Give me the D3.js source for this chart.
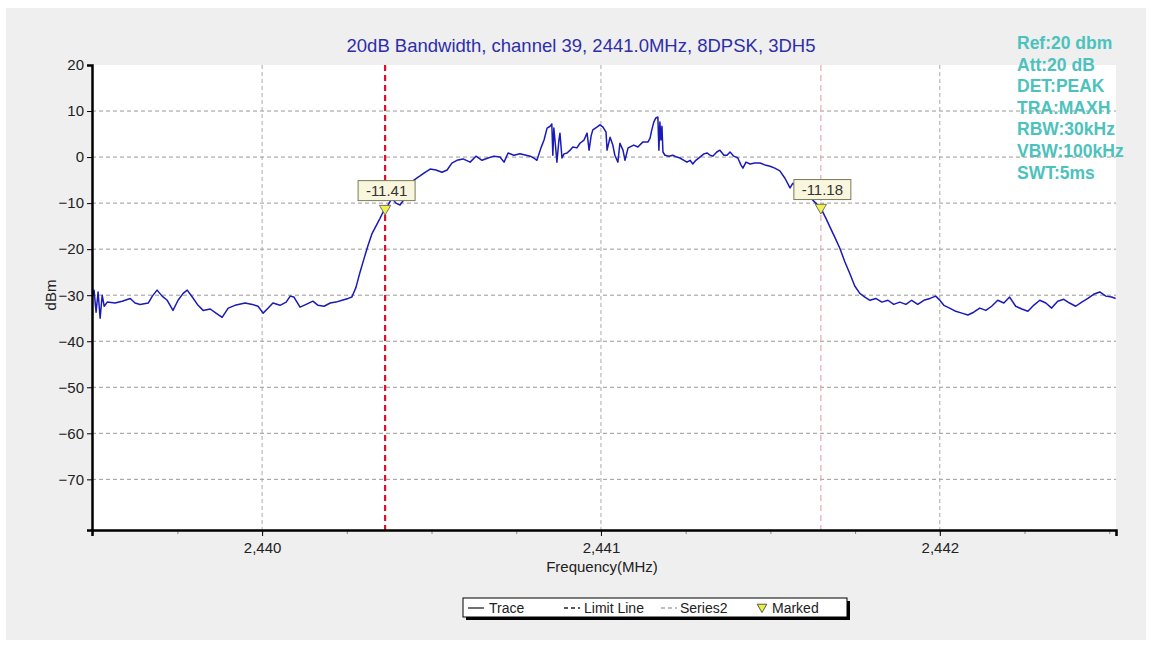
<!DOCTYPE html>
<html><head><meta charset="utf-8">
<script src="https://cdn.jsdelivr.net/npm/d3@7"></script>
<style>body{margin:0;background:#fff;} svg{display:block;font-family:Arial,"Liberation Sans",sans-serif;}</style>
</head><body>
<svg id="chart" width="1151" height="646"></svg>
<script>
// ---- data ----
const traceFreq = [2439.499,2439.504,2439.510,2439.516,2439.522,2439.528,2439.534,2439.543,2439.566,2439.587,2439.611,2439.625,2439.640,2439.664,2439.676,2439.690,2439.705,2439.720,2439.737,2439.752,2439.767,2439.779,2439.794,2439.811,2439.826,2439.847,2439.864,2439.882,2439.900,2439.920,2439.950,2439.971,2439.988,2440.003,2440.018,2440.032,2440.053,2440.071,2440.083,2440.094,2440.112,2440.130,2440.150,2440.165,2440.183,2440.201,2440.218,2440.236,2440.254,2440.265,2440.277,2440.289,2440.301,2440.313,2440.324,2440.336,2440.348,2440.360,2440.372,2440.383,2440.395,2440.407,2440.422,2440.437,2440.448,2440.466,2440.481,2440.496,2440.513,2440.531,2440.546,2440.560,2440.575,2440.593,2440.614,2440.631,2440.649,2440.667,2440.684,2440.702,2440.714,2440.726,2440.743,2440.761,2440.779,2440.791,2440.802,2440.811,2440.823,2440.832,2440.841,2440.850,2440.855,2440.858,2440.861,2440.867,2440.870,2440.876,2440.879,2440.885,2440.891,2440.900,2440.909,2440.917,2440.929,2440.938,2440.950,2440.959,2440.965,2440.971,2440.976,2440.988,2440.997,2441.006,2441.015,2441.018,2441.027,2441.035,2441.041,2441.050,2441.056,2441.065,2441.071,2441.080,2441.086,2441.097,2441.109,2441.124,2441.139,2441.145,2441.150,2441.156,2441.162,2441.168,2441.171,2441.174,2441.177,2441.180,2441.183,2441.189,2441.201,2441.212,2441.224,2441.233,2441.245,2441.254,2441.263,2441.271,2441.280,2441.292,2441.304,2441.313,2441.322,2441.330,2441.342,2441.351,2441.363,2441.372,2441.381,2441.392,2441.404,2441.413,2441.419,2441.428,2441.440,2441.454,2441.469,2441.484,2441.499,2441.513,2441.528,2441.543,2441.558,2441.566,2441.578,2441.593,2441.608,2441.622,2441.634,2441.649,2441.664,2441.676,2441.690,2441.705,2441.720,2441.735,2441.749,2441.764,2441.779,2441.794,2441.811,2441.829,2441.847,2441.864,2441.882,2441.900,2441.917,2441.935,2441.953,2441.971,2441.988,2442.000,2442.012,2442.029,2442.047,2442.065,2442.083,2442.100,2442.118,2442.136,2442.153,2442.171,2442.189,2442.206,2442.224,2442.242,2442.260,2442.277,2442.295,2442.313,2442.330,2442.348,2442.366,2442.383,2442.401,2442.419,2442.437,2442.454,2442.472,2442.490,2442.507,2442.519];
const traceDbm = [-30.4,-28.9,-33.7,-29.3,-35.0,-30.0,-32.4,-31.5,-31.7,-31.3,-30.7,-31.7,-32.0,-31.7,-30.2,-28.9,-30.2,-31.1,-33.3,-31.1,-29.6,-28.9,-30.4,-32.2,-33.3,-33.0,-33.9,-34.8,-32.8,-32.2,-31.7,-32.0,-32.4,-33.9,-32.8,-31.7,-32.2,-31.5,-30.2,-30.4,-32.6,-32.0,-31.3,-32.2,-32.4,-31.7,-31.5,-31.1,-30.7,-30.4,-28.3,-25.0,-22.0,-19.1,-16.7,-15.0,-13.3,-11.5,-10.4,-8.9,-10.0,-10.4,-8.9,-6.7,-5.0,-4.1,-3.3,-2.6,-2.8,-3.3,-2.8,-1.3,-0.7,-0.4,-1.1,0.2,-0.7,-0.2,0.2,0.0,-1.1,0.9,0.4,0.7,0.4,0.2,-0.2,-0.7,2.0,3.7,6.3,6.7,7.2,0.4,6.3,1.5,-1.1,3.7,5.2,-0.2,0.7,0.9,1.5,2.2,2.0,3.0,3.7,5.2,1.5,4.6,5.9,6.5,7.0,6.5,5.4,1.5,4.3,2.6,0.4,-1.1,3.0,1.5,-0.7,2.0,2.2,2.6,2.2,3.3,3.3,4.1,5.9,7.6,8.5,8.7,1.5,7.6,3.7,6.7,1.1,0.4,0.2,0.4,0.0,-0.2,-0.7,-1.1,-0.7,-1.5,-0.7,0.0,0.7,0.9,0.4,0.2,1.1,1.5,0.4,0.4,1.1,0.2,-0.2,-1.7,-2.4,-1.1,-1.5,-1.3,-1.3,-1.7,-2.0,-2.4,-3.0,-4.6,-6.7,-5.7,-6.3,-7.2,-8.0,-9.1,-10.0,-11.1,-13.3,-15.2,-17.4,-19.8,-22.8,-25.4,-28.0,-29.6,-30.4,-31.1,-30.7,-31.5,-31.1,-32.0,-31.5,-32.0,-31.1,-32.0,-31.1,-30.7,-30.2,-31.1,-32.2,-32.8,-33.5,-33.9,-34.3,-33.7,-32.8,-33.3,-32.4,-31.1,-31.7,-30.4,-32.4,-33.0,-33.5,-32.2,-31.1,-31.7,-32.8,-31.3,-30.9,-31.7,-32.4,-31.5,-30.7,-29.8,-29.3,-30.2,-30.4,-30.7];
const markerFreq = [2440.363, 2441.649];
const markerDbm = [-11.41, -11.18];
const markerLabels = ["-11.41", "-11.18"];
const yTicks = [20,10,0,-10,-20,-30,-40,-50,-60,-70];
const xMajorTicks = [2440, 2441, 2442];
const xDomain = [2439.498, 2442.52];
const yDomain = [-81, 20];
const infoLines = ["Ref:20 dbm","Att:20 dB","DET:PEAK","TRA:MAXH","RBW:30kHz","VBW:100kHz","SWT:5ms"];
const titleText = "20dB Bandwidth, channel 39, 2441.0MHz, 8DPSK, 3DH5";

// ---- layout ----
const svg = d3.select("#chart");
const L = 92, R = 1116, T = 65, B = 530;
const x = d3.scaleLinear().domain(xDomain).range([L, R]);
const y = d3.scaleLinear().domain(yDomain).range([B, T]);

// backgrounds
svg.append("rect").attr("x",6).attr("y",8).attr("width",1140).attr("height",632).attr("fill","#efefef");
svg.append("rect").attr("x",L).attr("y",T).attr("width",R-L).attr("height",B-T).attr("fill","#ffffff");

// grid
const grid = svg.append("g");
grid.selectAll("line.h").data(yTicks.filter(d=>d<20)).enter().append("line")
  .attr("x1",L).attr("x2",R).attr("y1",d=>y(d)).attr("y2",d=>y(d))
  .attr("stroke","#999").attr("stroke-width",1).attr("stroke-dasharray","4,3");
grid.selectAll("line.v").data(xMajorTicks).enter().append("line")
  .attr("x1",d=>x(d)).attr("x2",d=>x(d)).attr("y1",T).attr("y2",B)
  .attr("stroke","#aaa").attr("stroke-width",1).attr("stroke-dasharray","4,3");

// marker lines
svg.append("line").attr("x1",x(markerFreq[0])).attr("x2",x(markerFreq[0])).attr("y1",T).attr("y2",B)
  .attr("stroke","#e0102a").attr("stroke-width",2.2).attr("stroke-dasharray","6,4");
svg.append("line").attr("x1",x(markerFreq[1])).attr("x2",x(markerFreq[1])).attr("y1",T).attr("y2",B)
  .attr("stroke","#e8a8b0").attr("stroke-width",1.2).attr("stroke-dasharray","6,4");

// trace
const pts = traceFreq.map((f,i)=>[f, traceDbm[i]]);
svg.append("path").datum(pts)
  .attr("d", d3.line().x(d=>x(d[0])).y(d=>y(d[1])))
  .attr("fill","none").attr("stroke","#1a1ab8").attr("stroke-width",1.5).attr("stroke-linejoin","round");

// axes
const yAxis = d3.axisLeft(y).tickValues(yTicks).tickSize(5).tickFormat(d3.format("d"));
const gy = svg.append("g").attr("transform",`translate(${L},0)`).call(yAxis);
gy.select(".domain").attr("stroke","#000").attr("stroke-width",2.5);
gy.selectAll("text").attr("font-size",15).attr("fill","#222").attr("font-family","Arial, 'Liberation Sans', sans-serif");

const minorTicks = d3.range(2439.5, 2442.51, 0.25);
const xAxisMinor = d3.axisBottom(x).tickValues(minorTicks).tickSize(4).tickFormat("");
const gxm = svg.append("g").attr("transform",`translate(0,${B})`).call(xAxisMinor);
gxm.select(".domain").remove();
gxm.selectAll("line").attr("stroke","#888");
const xAxis = d3.axisBottom(x).tickValues(xMajorTicks).tickSize(6).tickPadding(6).tickFormat(d3.format(",d"));
const gx = svg.append("g").attr("transform",`translate(0,${B})`).call(xAxis);
gx.select(".domain").attr("stroke","#000").attr("stroke-width",2.5);
gx.selectAll("text").attr("font-size",15).attr("fill","#222").attr("font-family","Arial, 'Liberation Sans', sans-serif");

// axis titles
svg.append("text").attr("x",602).attr("y",572).attr("text-anchor","middle").attr("font-size",15).attr("fill","#222").text("Frequency(MHz)");
svg.append("text").attr("transform","translate(56,295) rotate(-90)").attr("text-anchor","middle").attr("font-size",15).attr("fill","#222").text("dBm");

// title
svg.append("text").attr("x",581).attr("y",52).attr("text-anchor","middle").attr("font-size",18.5).attr("fill","#2e2ea8").text(titleText);

// info
svg.append("g").selectAll("text").data(infoLines).enter().append("text")
  .attr("x",1017).attr("y",(d,i)=>49+i*21.6).attr("font-size",17.5).attr("font-weight","bold").attr("fill","#4cc2bd").text(d=>d);

// markers
const tri = d3.symbol().type(d3.symbolTriangle).size(55);
markerFreq.forEach((f,i)=>{
  const mx = x(f), my = y(markerDbm[i]);
  svg.append("path").attr("d",tri()).attr("transform",`translate(${mx},${my-1}) rotate(180)`)
    .attr("fill","#f0f050").attr("stroke","#555").attr("stroke-width",0.8);
  const g = svg.append("g");
  g.append("rect").attr("x",mx-27).attr("y",my-29).attr("width",57).attr("height",20)
    .attr("fill","#f8f6dc").attr("stroke","#7a7a5a").attr("stroke-width",1);
  g.append("text").attr("x",mx+1.5).attr("y",my-14).attr("text-anchor","middle").attr("font-size",15).attr("fill","#333").text(markerLabels[i]);
});

// legend
const lg = svg.append("g");
lg.append("rect").attr("x",466).attr("y",601).attr("width",384).attr("height",19).attr("fill","#000");
lg.append("rect").attr("x",463).attr("y",598).attr("width",384).attr("height",19).attr("fill","#fff").attr("stroke","#000").attr("stroke-width",1);
lg.append("line").attr("x1",468).attr("x2",484).attr("y1",608).attr("y2",608).attr("stroke","#222").attr("stroke-width",1.3);
lg.append("text").attr("x",489).attr("y",613).attr("font-size",14).attr("fill","#222").text("Trace");
lg.append("line").attr("x1",564).attr("x2",580).attr("y1",608).attr("y2",608).attr("stroke","#222").attr("stroke-width",1.3).attr("stroke-dasharray","4,3");
lg.append("text").attr("x",584).attr("y",613).attr("font-size",14).attr("fill","#222").text("Limit Line");
lg.append("line").attr("x1",661).attr("x2",677).attr("y1",608).attr("y2",608).attr("stroke","#aaa").attr("stroke-width",1.3).attr("stroke-dasharray","4,3");
lg.append("text").attr("x",680).attr("y",613).attr("font-size",14).attr("fill","#222").text("Series2");
lg.append("path").attr("d",d3.symbol().type(d3.symbolTriangle).size(40)()).attr("transform","translate(762,607) rotate(180)")
  .attr("fill","#e8f040").attr("stroke","#333").attr("stroke-width",0.8);
lg.append("text").attr("x",772).attr("y",613).attr("font-size",14).attr("fill","#222").text("Marked");
</script>
</body></html>
